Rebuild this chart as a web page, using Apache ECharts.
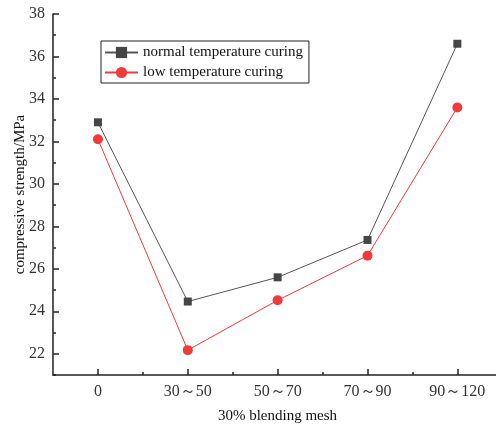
<!DOCTYPE html>
<html>
<head>
<meta charset="utf-8">
<script src="https://cdn.jsdelivr.net/npm/echarts@6/dist/echarts.min.js"></script>
<style>html,body{margin:0;padding:0;background:#fff}#c{width:496px;height:425px}</style>
</head>
<body>
<div id="c"></div>
<script>
var categories = ['0', '30\uFF5E50', '50\uFF5E70', '70\uFF5E90', '90\uFF5E120'];
var normalCuring = [32.9, 24.46, 25.6, 27.36, 36.6];
var lowCuring = [32.1, 22.17, 24.52, 26.62, 33.6];
var yMajorTicks = [22, 24, 26, 28, 30, 32, 34, 36, 38];
var yMinorTicks = [21, 23, 25, 27, 29, 31, 33, 35, 37];
var xMajorTicks = [0, 1, 2, 3, 4];
var xMinorTicks = [0.5, 1.5, 2.5, 3.5];

var font = 'Liberation Serif';
var chart = echarts.init(document.getElementById('c'), null, {renderer: 'canvas'});
function pairs(arr) { return arr.map(function (v, i) { return [i, v]; }); }
var axisLine = {show: true, onZero: false, lineStyle: {color: '#222', width: 1.5}};
chart.setOption({
  animation: false,
  backgroundColor: '#fff',
  textStyle: {fontFamily: font},
  grid: {left: 53, right: 0, top: 14, bottom: 50, containLabel: false, outerBoundsMode: 'none'},
  legend: {
    orient: 'vertical', left: 101, top: 41,
    borderColor: '#222', borderWidth: 1, padding: [4, 6, 3, 3],
    itemWidth: 33, itemHeight: 14, itemGap: 5,
    textStyle: {fontFamily: font, fontSize: 15, color: '#111'},
    data: ['normal temperature curing', 'low temperature curing']
  },
  xAxis: [{
    type: 'value', min: -0.5, max: 4.43,
    axisLine: axisLine,
    splitLine: {show: false},
    axisTick: {show: true, inside: true, length: 6, customValues: xMajorTicks, lineStyle: {color: '#222', width: 1.5}},
    axisLabel: {customValues: xMajorTicks, margin: 9, fontFamily: font, fontSize: 16, color: '#333',
      formatter: function (v) { return categories[Math.round(v)]; }},
    name: '30% blending mesh', nameLocation: 'middle', nameGap: 34,
    nameTextStyle: {fontFamily: font, fontSize: 15, color: '#111', padding: [0, 0, 0, 6]}
  }, {
    type: 'value', min: -0.5, max: 4.43, position: 'bottom',
    axisLine: {show: false, onZero: false}, splitLine: {show: false},
    axisTick: {show: true, inside: true, length: 3, customValues: xMinorTicks, lineStyle: {color: '#222', width: 1.5}},
    axisLabel: {show: false}
  }],
  yAxis: [{
    type: 'value', min: 21, max: 38,
    axisLine: axisLine,
    splitLine: {show: false},
    axisTick: {show: true, inside: true, length: 6, customValues: yMajorTicks, lineStyle: {color: '#222', width: 1.5}},
    axisLabel: {customValues: yMajorTicks, margin: 8, fontFamily: font, fontSize: 16, color: '#333'},
    name: 'compressive strength/MPa', nameLocation: 'middle', nameGap: 25, nameMoveOverlap: false,
    nameTextStyle: {fontFamily: font, fontSize: 15, color: '#111'}
  }, {
    type: 'value', min: 21, max: 38, position: 'left',
    axisLine: {show: false, onZero: false}, splitLine: {show: false},
    axisTick: {show: true, inside: true, length: 3, customValues: yMinorTicks, lineStyle: {color: '#222', width: 1.5}},
    axisLabel: {show: false}
  }],
  series: [{
    name: 'normal temperature curing', type: 'line', data: pairs(normalCuring),
    symbol: 'rect', symbolSize: 8,
    itemStyle: {color: '#454545'}, lineStyle: {color: '#555', width: 1}
  }, {
    name: 'low temperature curing', type: 'line', data: pairs(lowCuring),
    symbol: 'circle', symbolSize: 10,
    itemStyle: {color: '#f03a3c'}, lineStyle: {color: '#f03a3c', width: 1}
  }]
});
</script>
</body>
</html>
